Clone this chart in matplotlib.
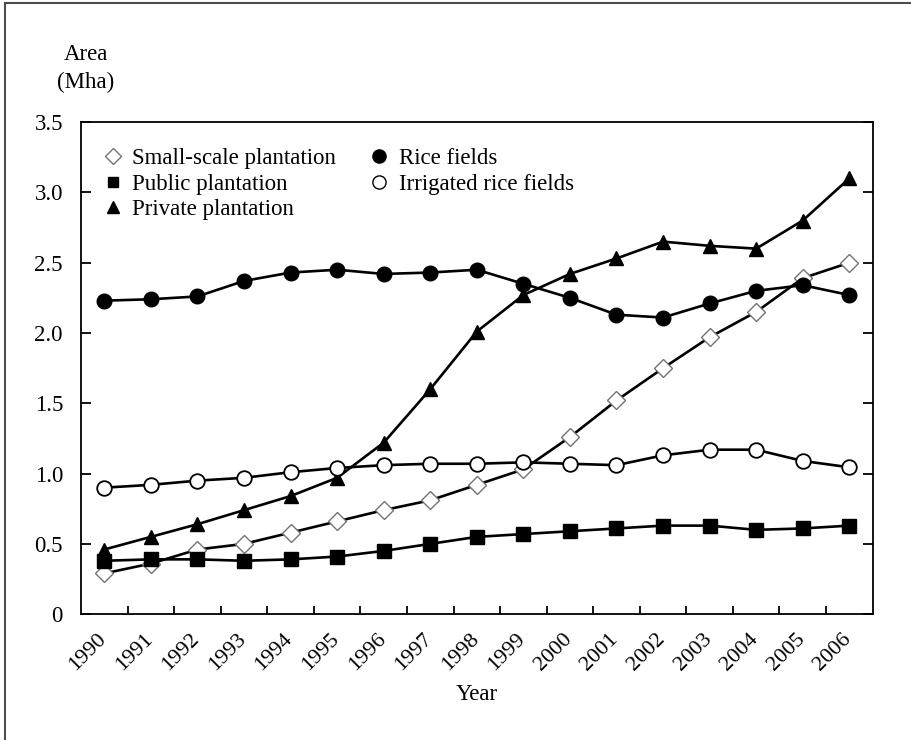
import matplotlib
matplotlib.use("Agg")
import matplotlib.pyplot as plt
from matplotlib.lines import Line2D
import matplotlib.transforms as mtransforms
import numpy as np

plt.rcParams['font.family'] = ['Liberation Serif', 'DejaVu Serif']

years = [str(y) for y in range(1990, 2007)]

small_scale = [0.29, 0.36, 0.46, 0.50, 0.58, 0.66, 0.74, 0.81, 0.92, 1.03,
               1.26, 1.52, 1.75, 1.97, 2.15, 2.39, 2.50]
public = [0.38, 0.39, 0.39, 0.38, 0.39, 0.41, 0.45, 0.50, 0.55, 0.57,
          0.59, 0.61, 0.63, 0.63, 0.60, 0.61, 0.63]
private = [0.46, 0.55, 0.64, 0.74, 0.84, 0.97, 1.22, 1.60, 2.01, 2.27,
           2.42, 2.53, 2.65, 2.62, 2.60, 2.80, 3.10]
rice = [2.23, 2.24, 2.26, 2.37, 2.43, 2.45, 2.42, 2.43, 2.45, 2.35,
        2.25, 2.13, 2.11, 2.21, 2.30, 2.34, 2.27]
irrigated = [0.90, 0.92, 0.95, 0.97, 1.01, 1.04, 1.06, 1.07, 1.07, 1.08,
             1.07, 1.06, 1.13, 1.17, 1.17, 1.09, 1.045]

x = np.arange(len(years))

fig = plt.figure(figsize=(9.12, 7.4), dpi=100)
ax = fig.add_axes([0.0888, 0.170, 0.868, 0.665])

lw = 1.9
# small-scale: white diamonds with grey edge
ax.plot(x, small_scale, color='black', lw=lw, marker='D', markersize=9.5,
        markerfacecolor='white', markeredgecolor='0.45', markeredgewidth=1.0,
        label='Small-scale plantation', zorder=3)
ax.plot(x, public, color='black', lw=lw, marker='s', markersize=9.5,
        markerfacecolor='black', markeredgecolor='black',
        label='Public plantation', zorder=3)
ax.plot(x, private, color='black', lw=lw, marker='^', markersize=10.5,
        markerfacecolor='black', markeredgecolor='black',
        label='Private plantation', zorder=3)
ax.plot(x, rice, color='black', lw=lw, marker='o', markersize=10.5,
        markerfacecolor='black', markeredgecolor='black',
        label='Rice fields', zorder=3)
ax.plot(x, irrigated, color='black', lw=lw, marker='o', markersize=10.5,
        markerfacecolor='white', markeredgecolor='black', markeredgewidth=1.3,
        label='Irrigated rice fields', zorder=4)

ax.set_xlim(-0.5, len(years) - 0.5)
ax.set_ylim(0, 3.5)

ax.set_xticks(x)
ax.set_xticklabels(years, rotation=45, ha='right', fontsize=16)
ax.set_xticks(x[:-1] + 0.5, minor=True)
ax.tick_params(axis='x', which='major', length=0, pad=11)
ax.tick_params(axis='x', which='minor', direction='in', length=6, width=1.3)
shift = mtransforms.ScaledTranslation(6 / 100, 0, fig.dpi_scale_trans)
for lab in ax.get_xticklabels():
    lab.set_transform(lab.get_transform() + shift)

yt = np.arange(0, 3.51, 0.5)
ax.set_yticks(yt)
ax.set_yticklabels(['0'] + ['%.1f' % v for v in yt[1:]], fontsize=16.5)
ax.tick_params(axis='y', direction='in', length=7, width=1.3, right=True, pad=13)

for s in ax.spines.values():
    s.set_linewidth(1.3)

ax.set_xlabel('Year', fontsize=16.5, labelpad=7)

fig.text(0.094, 0.926, 'Area', ha='center', va='center', fontsize=16.5)
fig.text(0.094, 0.889, '(Mha)', ha='center', va='center', fontsize=16.5)

handles = [Line2D([], [], ls='none', marker='D', markersize=8.5, markerfacecolor='white',
                  markeredgecolor='0.45', markeredgewidth=1.0),
           Line2D([], [], ls='none', marker='s', markersize=7.5, color='black'),
           Line2D([], [], ls='none', marker='^', markersize=8.5, color='black'),
           Line2D([], [], ls='none', marker='o', markersize=9.5, color='black'),
           Line2D([], [], ls='none', marker='o', markersize=9.5, markerfacecolor='white',
                  markeredgecolor='black', markeredgewidth=1.0)]
labels = ['Small-scale plantation', 'Public plantation', 'Private plantation',
          'Rice fields', 'Irrigated rice fields']
ax.legend(handles, labels, ncol=2, frameon=False, fontsize=16.5,
          loc='upper left', bbox_to_anchor=(0.008, 0.98),
          handlelength=0.8, handletextpad=0.45, columnspacing=1.5,
          labelspacing=0.2, borderaxespad=0.3)

# figure frame (top and left edges)
fig.add_artist(Line2D([0.005, 0.005], [0.0, 0.996], transform=fig.transFigure,
                      color='0.3', lw=1.5))
fig.add_artist(Line2D([0.005, 1.0], [0.996, 0.996], transform=fig.transFigure,
                      color='0.3', lw=1.5))

fig.savefig('out.png', dpi=100)
